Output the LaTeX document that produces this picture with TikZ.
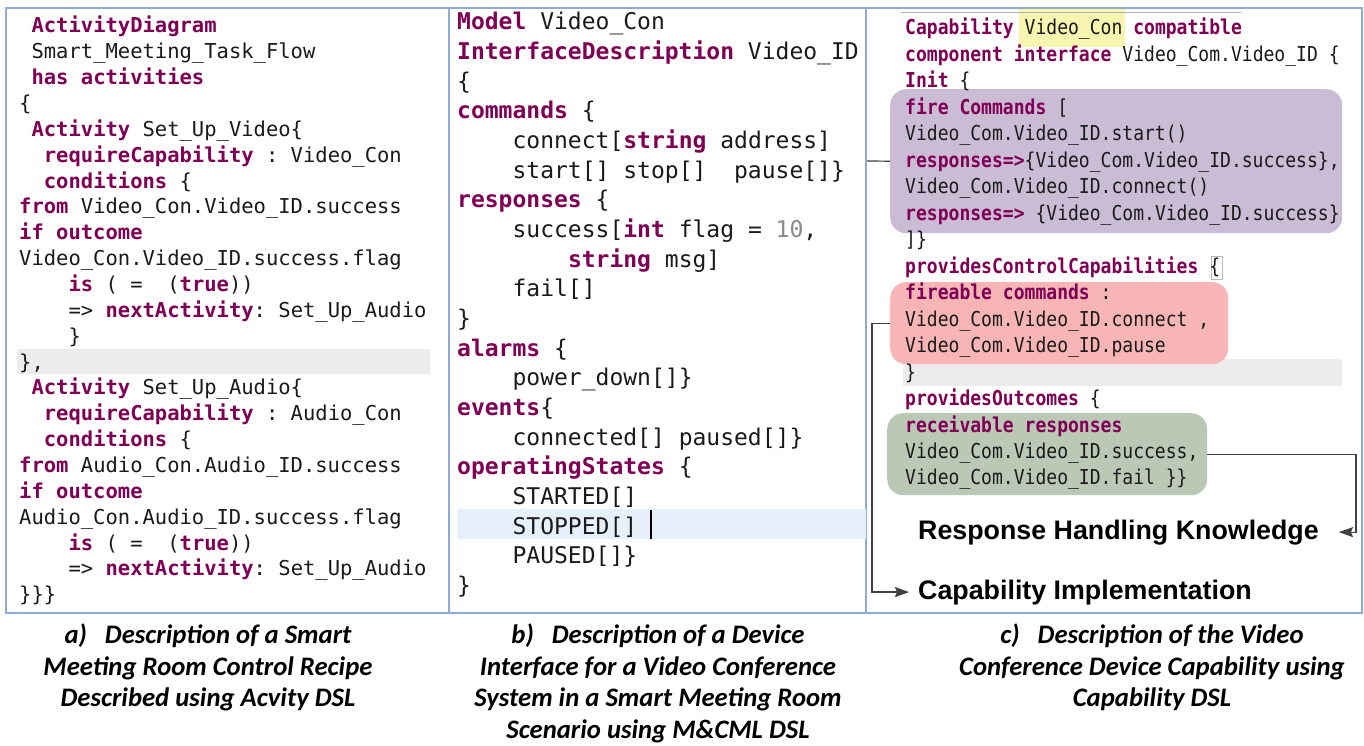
\documentclass[tikz,border=0pt]{standalone}
\usepackage{fontspec}
\setmonofont{DejaVu Sans Mono}
\newfontfamily\monoR[FakeStretch=0.88]{DejaVu Sans Mono}
\newfontfamily\capfont{Carlito}
\newfontfamily\headfont{Liberation Sans}
\usetikzlibrary{arrows.meta}
\definecolor{kwc}{HTML}{7F0055}
\definecolor{txt}{HTML}{1A1A1A}
\definecolor{numc}{HTML}{8A8A8A}
\definecolor{frame}{HTML}{8FAADC}
\definecolor{purp}{HTML}{CBBCD6}
\definecolor{redb}{HTML}{F8B5B5}
\definecolor{greenb}{HTML}{BCC8B6}
\definecolor{yell}{HTML}{F7F5B0}
\definecolor{band}{HTML}{ECECEC}
\definecolor{bluband}{HTML}{E6F0FB}
\definecolor{conn}{HTML}{404040}
\newcommand{\kw}[1]{{\bfseries\color{kwc}#1}}
\newcommand{\la}[4]{\node[codeA] (#1) at ({19+#2*12.35},{33+#3*25.85}) {#4};}
\newcommand{\mb}[4]{\node[codeB] (#1) at ({457+#2*13.85},{30+#3*29.65}) {#4};}
\newcommand{\rc}[4]{\node[codeC] (#1) at ({905+#2*10.9},{35+#3*26.47}) {#4};}
\tikzset{
  codeA/.style={anchor=base west, inner sep=0pt, text=txt, font=\ttfamily\fontsize{20.5pt}{24pt}\selectfont},
  codeB/.style={anchor=base west, inner sep=0pt, text=txt, font=\ttfamily\fontsize{23pt}{27pt}\selectfont},
  codeC/.style={anchor=base west, inner sep=0pt, text=txt, font=\monoR\fontsize{20.5pt}{24pt}\selectfont},
  hibox/.style={anchor=north west, inner sep=0pt, draw=none, rounded corners=16pt},
  heading/.style={anchor=base west, inner sep=0pt, font=\headfont\bfseries\fontsize{26.8pt}{30pt}\selectfont},
  capline/.style={anchor=base, inner sep=0pt, font=\capfont\bfseries\itshape\fontsize{26.7pt}{30pt}\selectfont},
  connector/.style={draw=conn, line width=1.2pt},
  tip/.style={-{Stealth[length=14pt,width=10pt,inset=2pt]}}
}
\begin{document}
\begin{tikzpicture}[x=1pt,y=-1pt]
\useasboundingbox (0,0) rectangle (1364,746);
\fill[white] (0,0) rectangle (1364,746);
% panel frames
\draw[frame, line width=1.3pt] (6,8) rectangle (1362,613);
\draw[frame, line width=1.3pt] (449,8) -- (449,613);
\draw[frame, line width=1.3pt] (866,8) -- (866,613);
% highlight bands
\fill[band] (17,349) rectangle (430,374);
\fill[bluband] (457,509) rectangle (866,539);
\fill[band] (903,359) rectangle (1342,386);
\fill[yell] (1019,9) rectangle (1125,47);
\draw[gray!60, line width=0.8pt] (901,12) -- (1241,12);
\draw[gray!55, line width=0.8pt] (1211,256) rectangle (1222,279);
% coloured boxes in panel c
\node[hibox, fill=purp, minimum width=452pt, minimum height=144pt] (pbox) at (890,89) {};
\node[hibox, fill=redb, minimum width=338pt, minimum height=82pt] (rbox) at (890,282) {};
\node[hibox, fill=greenb, minimum width=320pt, minimum height=82pt] (gbox) at (887,413) {};
% cursor
\draw[black, line width=1.6pt] (651,510) -- (651,539);
% ---------- panel a ----------
\la{a0}{1}{0}{\kw{ActivityDiagram}}
\la{a1}{1}{1}{Smart\_Meeting\_Task\_Flow}
\la{a2}{1}{2}{\kw{has activities}}
\la{a3}{0}{3}{\{}
\la{a4}{1}{4}{\kw{Activity} Set\_Up\_Video\{}
\la{a5}{2}{5}{\kw{requireCapability} : Video\_Con}
\la{a6}{2}{6}{\kw{conditions} \{}
\la{a7}{0}{7}{\kw{from} Video\_Con.Video\_ID.success}
\la{a8}{0}{8}{\kw{if outcome}}
\la{a9}{0}{9}{Video\_Con.Video\_ID.success.flag}
\la{a10}{4}{10}{\kw{is} ( =\ \ (\kw{true}))}
\la{a11}{4}{11}{=> \kw{nextActivity}: Set\_Up\_Audio}
\la{a12}{4}{12}{\}}
\la{a13}{0}{13}{\},}
\la{a14}{1}{14}{\kw{Activity} Set\_Up\_Audio\{}
\la{a15}{2}{15}{\kw{requireCapability} : Audio\_Con}
\la{a16}{2}{16}{\kw{conditions} \{}
\la{a17}{0}{17}{\kw{from} Audio\_Con.Audio\_ID.success}
\la{a18}{0}{18}{\kw{if outcome}}
\la{a19}{0}{19}{Audio\_Con.Audio\_ID.success.flag}
\la{a20}{4}{20}{\kw{is} ( =\ \ (\kw{true}))}
\la{a21}{4}{21}{=> \kw{nextActivity}: Set\_Up\_Audio}
\la{a22}{0}{22}{\}\}\}}
% ---------- panel b ----------
\mb{b0}{0}{0}{\kw{Model} Video\_Con}
\mb{b1}{0}{1}{\kw{InterfaceDescription} Video\_ID}
\mb{b2}{0}{2}{\{}
\mb{b3}{0}{3}{\kw{commands} \{}
\mb{b4}{4}{4}{connect[\kw{string} address]}
\mb{b5}{4}{5}{start[] stop[]\ \ pause[]\}}
\mb{b6}{0}{6}{\kw{responses} \{}
\mb{b7}{4}{7}{success[\kw{int} flag = {\color{numc}10},}
\mb{b8}{8}{8}{\kw{string} msg]}
\mb{b9}{4}{9}{fail[]}
\mb{b10}{0}{10}{\}}
\mb{b11}{0}{11}{\kw{alarms} \{}
\mb{b12}{4}{12}{power\_down[]\}}
\mb{b13}{0}{13}{\kw{events}\{}
\mb{b14}{4}{14}{connected[] paused[]\}}
\mb{b15}{0}{15}{\kw{operatingStates} \{}
\mb{b16}{4}{16}{STARTED[]}
\mb{b17}{4}{17}{STOPPED[]}
\mb{b18}{4}{18}{PAUSED[]\}}
\mb{b19}{0}{19}{\}}
% ---------- panel c ----------
\rc{c0}{0}{0}{\kw{Capability} Video\_Con \kw{compatible}}
\rc{c1}{0}{1}{\kw{component interface} Video\_Com.Video\_ID \{}
\rc{c2}{0}{2}{\kw{Init} \{}
\rc{c3}{0}{3}{\kw{fire Commands} [}
\rc{c4}{0}{4}{Video\_Com.Video\_ID.start()}
\rc{c5}{0}{5}{\kw{responses=>}\{Video\_Com.Video\_ID.success\},}
\rc{c6}{0}{6}{Video\_Com.Video\_ID.connect()}
\rc{c7}{0}{7}{\kw{responses=>} \{Video\_Com.Video\_ID.success\}}
\rc{c8}{0}{8}{]\}}
\rc{c9}{0}{9}{\kw{providesControlCapabilities} \{}
\rc{c10}{0}{10}{\kw{fireable commands} :}
\rc{c11}{0}{11}{Video\_Com.Video\_ID.connect ,}
\rc{c12}{0}{12}{Video\_Com.Video\_ID.pause}
\rc{c13}{0}{13}{\}}
\rc{c14}{0}{14}{\kw{providesOutcomes} \{}
\rc{c15}{0}{15}{\kw{receivable responses}}
\rc{c16}{0}{16}{Video\_Com.Video\_ID.success,}
\rc{c17}{0}{17}{Video\_Com.Video\_ID.fail \}\}}
% headings
\node[heading] (rhk) at (918,539) {Response Handling Knowledge};
\node[heading] (cimp) at (918,599) {Capability Implementation};
% connectors
\coordinate (pl) at (867,161);
\draw[connector] (pbox.west) -- (pl);
\coordinate (rx) at (872,0);
\coordinate (rtipc) at ([xshift=-9pt]cimp.west);
\draw[connector, tip] (rbox.west) -| (rx |- rtipc) -- (rtipc);
\coordinate (gx) at (1356,0);
\coordinate (gtip) at ([xshift=20pt]rhk.east);
\draw[connector, tip] (gbox.east) -| (gx |- gtip) -- (gtip);
% captions
\node[capline] (ca1) at (208,643) {a)\hspace{18pt}Description of a Smart};
\node[capline] (ca2) at (208,675) {Meeting Room Control Recipe};
\node[capline] (ca3) at (208,706) {Described using Acvity DSL};
\node[capline] (cb1) at (658,643) {b)\hspace{18pt}Description of a Device};
\node[capline] (cb2) at (658,675) {Interface for a Video Conference};
\node[capline] (cb3) at (658,706) {System in a Smart Meeting Room};
\node[capline] (cb4) at (658,738) {Scenario using M\&CML DSL};
\node[capline] (cc1) at (1152,643) {c)\hspace{18pt}Description of the Video};
\node[capline] (cc2) at (1152,675) {Conference Device Capability using};
\node[capline] (cc3) at (1152,706) {Capability DSL};
\end{tikzpicture}
\end{document}
